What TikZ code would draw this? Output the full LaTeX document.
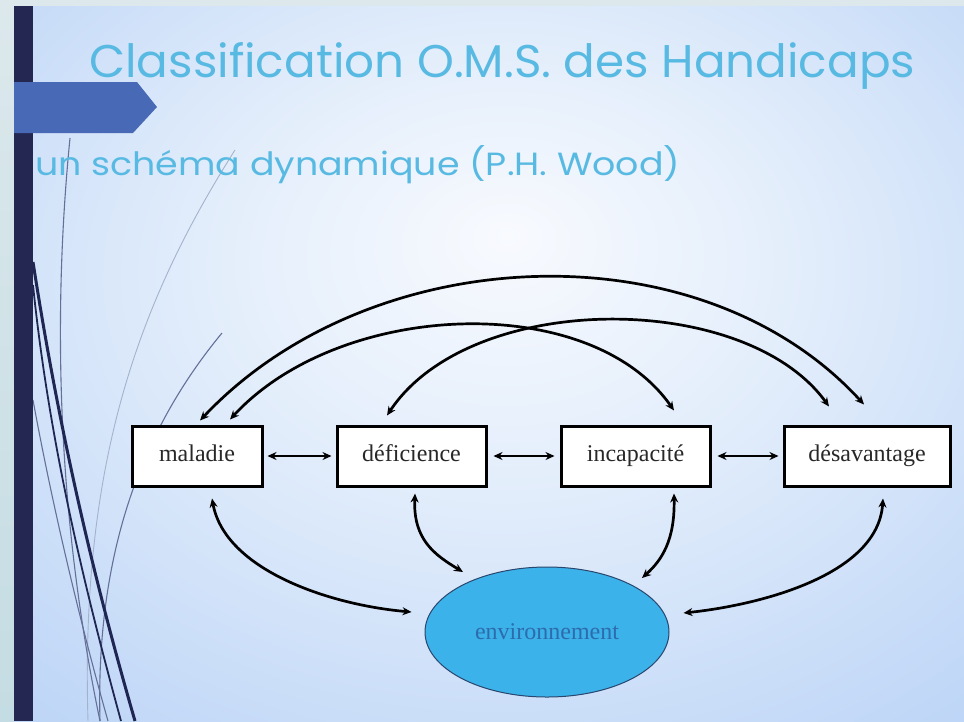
\documentclass[tikz,border=0pt]{standalone}
\usepackage{fontspec}
\setmainfont{Liberation Serif}
\newfontfamily\titlefont{Poppins}
\usetikzlibrary{arrows.meta,shapes.geometric,calc}

\definecolor{stripbg}{RGB}{220,232,236}
\definecolor{stripbot}{RGB}{196,220,227}
\definecolor{bgcA}{RGB}{248,250,254}
\definecolor{bgcB}{RGB}{226,237,251}
\definecolor{bgcC}{RGB}{192,215,247}
\definecolor{bgcD}{RGB}{160,194,242}
\definecolor{navybar}{RGB}{36,39,82}
\definecolor{chevblue}{RGB}{72,106,182}
\definecolor{titleblue}{RGB}{88,186,226}
\definecolor{boxtext}{RGB}{40,40,40}
\definecolor{envfill}{RGB}{60,178,234}
\definecolor{envtext}{RGB}{45,108,172}
\definecolor{envline}{RGB}{40,70,110}
\definecolor{decodark}{RGB}{32,38,84}
\definecolor{decogray}{RGB}{100,112,152}
\definecolor{decolight}{RGB}{165,178,205}

\pgfdeclareradialshading{slidebg}{\pgfpoint{1bp}{9bp}}{color(0bp)=(bgcA); color(16bp)=(bgcB); color(36bp)=(bgcC); color(64bp)=(bgcD)}

\tikzset{
  boxnode/.style={draw=black, line width=3pt, fill=white, minimum height=60pt, inner sep=0pt,
    text height=16pt, text depth=5pt, font=\fontsize{24}{28}\selectfont, text=boxtext},
  conn/.style={line width=2.7pt, {Stealth[length=9pt,width=8pt]}-{Stealth[length=9pt,width=8pt]}},
  decothick/.style={draw=decodark, line width=3pt},
  decomid/.style={draw=decodark, line width=1.8pt},
  decothin/.style={draw=decogray, line width=1.1pt},
  decofaint/.style={draw=decolight, line width=0.9pt},
}

\begin{document}
\begin{tikzpicture}[x=1pt,y=-1pt]
\path[use as bounding box] (0,0) rectangle (964,721);
% outer strip
\shade[top color=stripbg, bottom color=stripbot] (0,0) rectangle (964,721);
% slide background
\shade[shading=slidebg] (14,6) rectangle (964,721);
% decorative curves
\draw[decofaint] (235,150) .. controls (140,300) and (80,460) .. (88,721);
\draw[decothin] (70,138) .. controls (52,320) and (58,520) .. (100,721);
\draw[decothin] (222,333) .. controls (150,420) and (95,540) .. (100,721);
\draw[decothick] (33,262) .. controls (62,450) and (100,600) .. (135,721);
\draw[decomid] (33,285) .. controls (50,450) and (88,600) .. (121,721);
\draw[decothin] (33,400) .. controls (55,520) and (85,640) .. (108,721);
% dark bar
\fill[navybar] (14,6) rectangle (33,721);
% chevron
\fill[chevblue] (14,82) -- (137,82) -- (157,107) -- (133,133) -- (14,133) -- cycle;
% title and subtitle
\node[anchor=base west, inner sep=0pt, text=titleblue] (title) at (89,77)
  {\resizebox{826pt}{35pt}{\titlefont Classification O.M.S. des Handicaps}};
\node[anchor=base west, inner sep=0pt, text=titleblue] (subtitle) at (35,175)
  {\resizebox{645pt}{30pt}{\titlefont un schéma dynamique (P.H. Wood)}};
% boxes
\node[boxnode, minimum width=130pt] (mal) at (197,456) {maladie};
\node[boxnode, minimum width=149pt] (def) at (411.5,456) {déficience};
\node[boxnode, minimum width=149pt] (inc) at (635.5,456) {incapacité};
\node[boxnode, minimum width=166pt] (des) at (867,456) {désavantage};
% environment
\node[ellipse, draw=envline, line width=1pt, fill=envfill, minimum width=244pt, minimum height=130pt,
  inner sep=0pt, text=envtext, font=\fontsize{24}{28}\selectfont] (env) at (547,632) {environnement};
% horizontal links
\draw[conn, shorten <=4pt, shorten >=4pt] (mal.east) -- (def.west);
\draw[conn, shorten <=6pt, shorten >=5pt] (def.east) -- (inc.west);
\draw[conn, shorten <=6pt, shorten >=4pt] (inc.east) -- (des.west);
% top arcs
\draw[conn] ([xshift=3pt,yshift=4pt]mal.north) .. controls (370,240) and (700,225) .. ([xshift=-3pt,yshift=20pt]des.north);
\draw[conn] ([xshift=33pt,yshift=5pt]mal.north) .. controls (340,300) and (590,290) .. ([xshift=38.5pt,yshift=14pt]inc.north);
\draw[conn] ([xshift=-24.5pt,yshift=9pt]def.north) .. controls (470,290) and (745,290) .. ([xshift=-38pt,yshift=18pt]des.north);
% links to environment
\draw[conn] ([xshift=15pt,yshift=-11pt]mal.south) .. controls (225,570) and (330,605) .. ([xshift=-13pt,yshift=20pt]env.west);
\draw[conn] ([xshift=3.5pt,yshift=-6pt]def.south) .. controls (413,540) and (435,555) .. ([xshift=-84pt,yshift=60pt]env.center);
\draw[conn] ([xshift=38.5pt,yshift=-6pt]inc.south) .. controls (675,540) and (662,560) .. ([xshift=95pt,yshift=54pt]env.center);
\draw[conn] ([xshift=16pt,yshift=-11pt]des.south) .. controls (878,575) and (760,605) .. ([xshift=14pt,yshift=19pt]env.east);
\end{tikzpicture}
\end{document}
